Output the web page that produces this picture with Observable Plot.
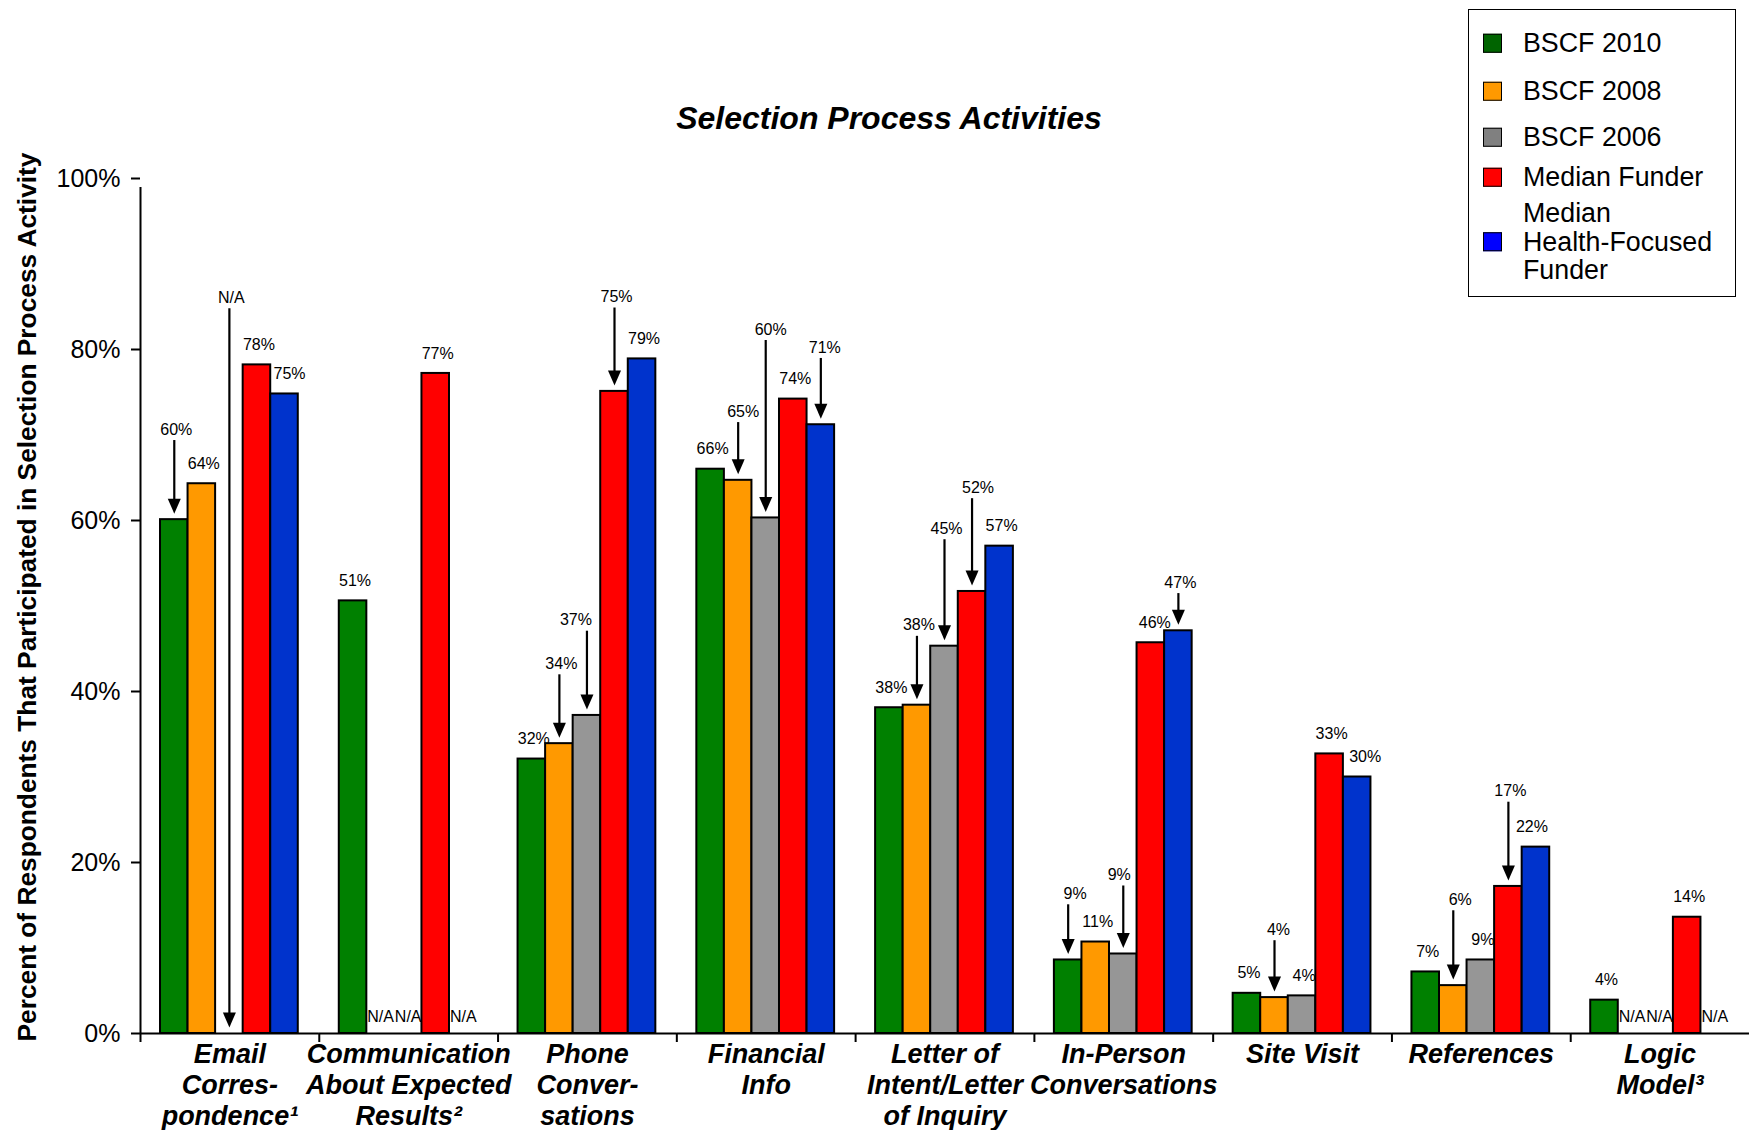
<!DOCTYPE html>
<html>
<head>
<meta charset="utf-8">
<script src="https://cdn.jsdelivr.net/npm/d3@7"></script>
<script src="https://cdn.jsdelivr.net/npm/@observablehq/plot@0.6"></script>
<style>
  html, body { margin: 0; padding: 0; background: #fff; }
  #chart { position: relative; width: 1749px; height: 1130px; font-family: "Liberation Sans", Arial, sans-serif; color: #000; }
  #chart svg { position: absolute; left: 0; top: 0; }
  #title { position: absolute; left: 889px; top: 118px; transform: translate(-50%, -50%); font-size: 32px; font-weight: bold; font-style: italic; white-space: nowrap; }
  #ylabel { position: absolute; left: 27px; top: 597px; transform: translate(-50%, -50%) rotate(-90deg); font-size: 26.3px; font-weight: bold; white-space: nowrap; }
  #legend { position: absolute; left: 1468px; top: 9px; width: 268px; height: 288px; box-sizing: border-box; border: 1.5px solid #000; background: #fff; z-index: 2; }
  .item { position: absolute; left: 0; display: flex; align-items: center; transform: translateY(-50%); }
  .swatch { width: 19px; height: 19px; box-sizing: border-box; border: 1.5px solid #000; margin-left: 14px; margin-right: 21px; flex: none; }
  .item span { font-size: 26.8px; line-height: 28.5px; white-space: pre; }
</style>
</head>
<body>
<div id="chart">
  <div id="title">Selection Process Activities</div>
  <div id="ylabel">Percent of Respondents That Participated in Selection Process Activity</div>
  <div id="legend"></div>
</div>
<script>
// ---- Data ----------------------------------------------------------------
const categories = [
  "Email Correspondence",
  "Communication About Expected Results",
  "Phone Conversations",
  "Financial Info",
  "Letter of Intent/Letter of Inquiry",
  "In-Person Conversations",
  "Site Visit",
  "References",
  "Logic Model"
];
const categoryLabels = [
  "Email\nCorres-\npondence¹",
  "Communication\nAbout Expected\nResults²",
  "Phone\nConver-\nsations",
  "Financial\nInfo",
  "Letter of\nIntent/Letter\nof Inquiry",
  "In-Person\nConversations",
  "Site Visit",
  "References",
  "Logic\nModel³"
];
const series = ["BSCF 2010", "BSCF 2008", "BSCF 2006", "Median Funder", "Median Health-Focused Funder"];
const legendLabels = ["BSCF 2010", "BSCF 2008", "BSCF 2006", "Median Funder", "Median\nHealth-Focused\nFunder"];

// percent of respondents; null = not asked (N/A)
const bscf2010           = [60.1, 50.6, 32.1, 66.0, 38.1,  8.6,  4.7,  7.2,  3.9];
const bscf2008           = [64.3, null, 33.9, 64.7, 38.4, 10.7,  4.2,  5.6, null];
const bscf2006           = [null, null, 37.2, 60.3, 45.3,  9.3,  4.4,  8.6, null];
const medianFunder       = [78.2, 77.2, 75.1, 74.2, 51.7, 45.7, 32.7, 17.2, 13.6];
const medianHealthFunder = [74.8, null, 78.9, 71.2, 57.0, 47.1, 30.0, 21.8, null];
const yTicks = [0, 20, 40, 60, 80, 100];

// ---- Styling ---------------------------------------------------------------
const barColors    = ["#008000", "#FF9900", "#969696", "#FF0000", "#0033CC"];
const legendColors = ["#006400", "#FF9900", "#808080", "#FF0000", "#0000FF"];

// Labels lifted above crowded bars, with an arrow down to the bar:
// [category index, series index, label level in percent]
const callouts = [
  [0, 0, 68.3], [0, 2, 83.7],
  [2, 1, 40.9], [2, 2, 46.0], [2, 3, 83.8],
  [3, 1, 70.4], [3, 2, 80.0], [3, 4, 77.9],
  [4, 1, 45.4], [4, 2, 56.7], [4, 3, 61.5],
  [5, 0, 14.0], [5, 2, 16.2], [5, 4, 50.4],
  [6, 1, 9.8],
  [7, 1, 13.3], [7, 3, 26.0]
];
// small horizontal nudges (px) for labels that sit off-centre
const labelNudges = new Map([
  ["0-4", 5], ["2-2", -11], ["3-1", 5], ["3-2", 5], ["3-4", 4], ["4-3", 6],
  ["5-0", 7], ["5-2", -4], ["5-3", 4], ["6-1", 4], ["6-4", 8], ["7-1", 7], ["7-4", -4]
]);

// ---- Tables ----------------------------------------------------------------
const seriesValues = [bscf2010, bscf2008, bscf2006, medianFunder, medianHealthFunder];
const rows = categories.flatMap((cat, ci) =>
  series.map((s, si) => ({cat, series: s, ci, si, value: seriesValues[si][ci]})));
const calloutLevel = new Map(callouts.map(([ci, si, lv]) => [`${ci}-${si}`, lv]));
const fmt = v => v == null ? "N/A" : `${Math.round(v)}%`;

const bars = rows.filter(d => d.value != null);
const arrows = rows.filter(d => calloutLevel.has(`${d.ci}-${d.si}`))
  .map(d => ({...d, level: calloutLevel.get(`${d.ci}-${d.si}`), target: d.value ?? 0}));
const labelRows = rows.map(d => {
  const key = `${d.ci}-${d.si}`;
  if (calloutLevel.has(key)) return {...d, y: calloutLevel.get(key), dy: -20, dx: labelNudges.get(key) ?? 2, label: fmt(d.value)};
  if (d.value == null) return {...d, y: 0, dy: -17, dx: 0, label: "N/A"};
  return {...d, y: d.value, dy: -20, dx: labelNudges.get(key) ?? 2, label: fmt(d.value)};
});

// ---- Layout ----------------------------------------------------------------
const W = 1749, H = 1130;
const margin = {top: 178, right: 0, bottom: 97, left: 140};
const facetWidth = (W - margin.left - margin.right) / categories.length;
const inset = {left: 20, right: 21};
const bandwidth = (facetWidth - inset.left - inset.right) / series.length;
const edgeDx = -(inset.left + bandwidth / 2); // first bar centre -> category's left edge
const headLen = 15, headGap = 6;

// filled, downward-pointing arrowhead with its tip at the origin
const arrowHead = {
  draw(context) {
    context.moveTo(-6.5, -headLen);
    context.lineTo(6.5, -headLen);
    context.lineTo(0, 0);
    context.closePath();
  }
};

const labelMarks = d3.groups(labelRows, d => `${d.dx}|${d.dy}`).map(([, g]) =>
  Plot.text(g, {fx: "cat", x: "series", y: "y", text: "label", dx: g[0].dx, dy: g[0].dy, fontSize: 16, fill: "#000"}));

const chart = Plot.plot({
  width: W,
  height: H,
  marginTop: margin.top,
  marginRight: margin.right,
  marginBottom: margin.bottom,
  marginLeft: margin.left,
  style: {fontFamily: "'Liberation Sans', Arial, sans-serif", background: "transparent", color: "#000", overflow: "visible"},
  fx: {domain: categories, padding: 0, round: false, axis: null, label: null},
  x: {domain: series, padding: 0, round: false, insetLeft: inset.left, insetRight: inset.right, axis: null},
  y: {domain: [0, 100], axis: null},
  color: {domain: series, range: barColors},
  marks: [
    Plot.barY(bars, {fx: "cat", x: "series", y: "value", fill: "series", stroke: "#000", strokeWidth: 2}),
    Plot.ruleY([0], {stroke: "#000", strokeWidth: 2}),
    // y axis line
    Plot.ruleX([series[0]], {x: d => d, y1: 0, y2: 100, dx: edgeDx, insetBottom: -9, stroke: "#000", strokeWidth: 2, facetAnchor: "left"}),
    // category boundary ticks
    Plot.ruleX(categories, {fx: d => d, x: () => series[0], y1: 0, y2: 0, dx: edgeDx, insetBottom: -9, stroke: "#000", strokeWidth: 2}),
    Plot.axisY({ticks: yTicks, tickFormat: d => `${d}%`, tickSize: 9, tickPadding: 11, fontSize: 25, strokeWidth: 2, label: null}),
    // callout arrows
    Plot.ruleX(arrows, {fx: "cat", x: "series", y1: "level", y2: "target", insetTop: -9, insetBottom: headGap + headLen - 2, stroke: "#000", strokeWidth: 2.2}),
    Plot.dot(arrows, {fx: "cat", x: "series", y: "target", symbol: arrowHead, r: 5, fill: "#000", stroke: null, dy: -headGap}),
    ...labelMarks,
    // category names
    Plot.text(categories, {fx: d => d, text: (d, i) => categoryLabels[i], frameAnchor: "bottom", lineAnchor: "top", dy: 7,
      fontSize: 27, fontWeight: "bold", fontStyle: "italic", lineHeight: 1.15, fill: "#000"})
  ]
});
document.getElementById("chart").appendChild(chart);

// ---- Legend ----------------------------------------------------------------
const legendCenters = [33, 81, 127, 167, 232];
const legend = document.getElementById("legend");
series.forEach((s, i) => {
  const item = document.createElement("div");
  item.className = "item";
  item.style.top = `${legendCenters[i]}px`;
  const sw = document.createElement("div");
  sw.className = "swatch";
  sw.style.background = legendColors[i];
  const label = document.createElement("span");
  label.textContent = legendLabels[i];
  item.append(sw, label);
  legend.appendChild(item);
});
</script>
</body>
</html>
